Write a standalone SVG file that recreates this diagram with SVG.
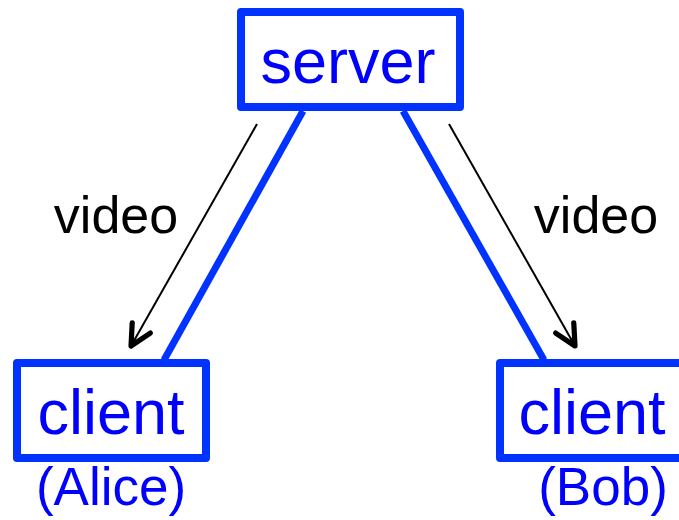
<svg xmlns="http://www.w3.org/2000/svg" width="679" height="520" viewBox="0 0 679 520">
  <style>
    .box { fill: #ffffff; stroke: #0033ff; stroke-width: 8; stroke-linejoin: round; }
    .link { stroke: #0033ff; stroke-width: 7; fill: none; }
    .flow { stroke: #000000; stroke-width: 2; fill: none; marker-end: url(#head); }
    .node { font-family: "Liberation Sans", Arial, sans-serif; fill: #0000ff; text-anchor: middle; }
    .lbl { font-family: "Liberation Sans", Arial, sans-serif; fill: #000000; text-anchor: middle; font-size: 52px; }
  </style>
  <defs>
    <marker id="head" markerUnits="userSpaceOnUse" markerWidth="30" markerHeight="30" refX="0" refY="0" viewBox="-22 -12 26 24" orient="auto">
      <path d="M -18 -9 L 0 0 L -18 9" fill="none" stroke="#000000" stroke-width="4.5" stroke-linecap="round" stroke-linejoin="round"/>
    </marker>
  </defs>

  <!-- links between server and clients -->
  <g id="connectors">
    <line class="link" x1="303" y1="111" x2="164" y2="360"/>
    <line class="link" x1="403" y1="111" x2="544" y2="360"/>
    <line class="flow" x1="257" y1="124" x2="131" y2="346"/>
    <line class="flow" x1="449" y1="124" x2="575" y2="346"/>
    <text class="lbl" x="116" y="233">video</text>
    <text class="lbl" x="596" y="233">video</text>
  </g>

  <g id="server">
    <rect class="box" x="241" y="12" width="219" height="95"/>
    <text class="node" x="348" y="83" font-size="63">server</text>
  </g>

  <g id="client-alice">
    <rect class="box" x="17" y="363" width="189" height="95"/>
    <text class="node" x="111" y="434" font-size="63">client</text>
    <text class="node" x="111" y="505" font-size="53">(Alice)</text>
  </g>

  <g id="client-bob">
    <rect class="box" x="500" y="363" width="200" height="95"/>
    <text class="node" x="592" y="434" font-size="63">client</text>
    <text class="node" x="603" y="505" font-size="53">(Bob)</text>
  </g>
</svg>
